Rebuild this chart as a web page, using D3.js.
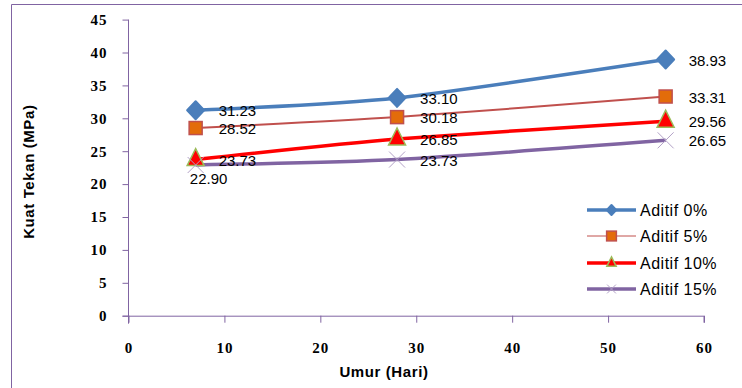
<!DOCTYPE html>
<html>
<head>
<meta charset="utf-8">
<script src="https://cdn.jsdelivr.net/npm/d3@7"></script>
<style>
  body { margin: 0; background: #fff; }
  svg { display: block; }
</style>
</head>
<body>
<div id="chart"></div>
<script>
// data
const days = [7, 28, 56];
const aditif0 = [31.23, 33.10, 38.93];
const aditif5 = [28.52, 30.18, 33.31];
const aditif10 = [23.73, 26.85, 29.56];
const aditif15 = [22.90, 23.73, 26.65];
const seriesNames = ["Aditif 0%", "Aditif 5%", "Aditif 10%", "Aditif 15%"];
const xTicks = [0, 10, 20, 30, 40, 50, 60];
const yTicks = [0, 5, 10, 15, 20, 25, 30, 35, 40, 45];

const width = 742, height = 388;
const margin = {top: 19.6, right: 38, bottom: 72.3, left: 128.5};

const svg = d3.select("#chart")
  .append("svg")
  .attr("width", width)
  .attr("height", height);

// outer chart border (only top + left visible)
svg.append("path")
  .attr("d", "M11.5,388 V4.5 H742")
  .attr("fill", "none")
  .attr("stroke", "#8064a2")
  .attr("stroke-width", 1);

const x = d3.scaleLinear().domain([0, 60]).range([margin.left, width - margin.right]);
const y = d3.scaleLinear().domain([0, 45]).range([height - margin.bottom, margin.top]);

const axisColor = "#8064a2";
const tickFont = "'Liberation Serif', serif";
const labelFont = "'Liberation Sans', Arial, sans-serif";

// y axis
const yAxis = svg.append("g")
  .attr("transform", `translate(${margin.left},0)`)
  .call(d3.axisLeft(y).tickValues(yTicks).tickSize(6).tickPadding(15));
// x axis
const xAxis = svg.append("g")
  .attr("transform", `translate(0,${y(0)})`)
  .call(d3.axisBottom(x).tickValues(xTicks).tickSize(7).tickPadding(20));

[yAxis, xAxis].forEach(a => {
  a.select(".domain").attr("stroke", axisColor);
  a.selectAll(".tick line").attr("stroke", axisColor);
  a.selectAll("text")
    .attr("fill", "#000")
    .attr("font-family", tickFont)
    .attr("font-weight", "bold")
    .attr("font-size", "15px")
    .attr("letter-spacing", "1px");
});
// x axis domain overshoots to left like excel
xAxis.select(".domain").attr("d", `M${margin.left - 6},0.5H${x(60)}V7`);
yAxis.select(".domain").attr("d", `M0,${y(45)}V${y(0) + 8}`);

// axis titles
svg.append("text")
  .attr("transform", `translate(34,${(y(0) + y(45)) / 2 + 4}) rotate(-90)`)
  .attr("text-anchor", "middle")
  .attr("font-family", labelFont)
  .attr("font-weight", "bold")
  .attr("font-size", "15px")
  .attr("letter-spacing", "0.6px")
  .text("Kuat Tekan (MPa)");

svg.append("text")
  .attr("x", 384)
  .attr("y", 377)
  .attr("text-anchor", "middle")
  .attr("font-family", labelFont)
  .attr("font-weight", "bold")
  .attr("font-size", "15px")
  .attr("letter-spacing", "0.6px")
  .text("Umur (Hari)");

const series = [
  {name: seriesNames[0], values: aditif0, color: "#4a7ebb", width: 3.5, marker: "diamond"},
  {name: seriesNames[1], values: aditif5, color: "#c0504d", width: 2, marker: "square"},
  {name: seriesNames[2], values: aditif10, color: "#ff0000", width: 3.5, marker: "triangle"},
  {name: seriesNames[3], values: aditif15, color: "#8064a2", width: 3.5, marker: "cross"}
];

const line = d3.line()
  .x((d, i) => x(days[i]))
  .y(d => y(d))
  .curve(d3.curveCardinal.tension(0.3));

function drawMarker(g, type, cx, cy, s) {
  if (type === "diamond") {
    g.append("path")
      .attr("d", `M${cx},${cy - s * 9}L${cx + s * 8.5},${cy}L${cx},${cy + s * 9}L${cx - s * 8.5},${cy}Z`)
      .attr("fill", "#4a7ebb")
      .attr("stroke", "#4a7ebb")
      .attr("stroke-linejoin", "round")
      .attr("stroke-width", 2);
  } else if (type === "square") {
    g.append("rect")
      .attr("x", cx - s * 6.5).attr("y", cy - s * 6.5)
      .attr("width", s * 13).attr("height", s * 13)
      .attr("fill", "#e36c0a")
      .attr("stroke", "#c0504d")
      .attr("stroke-width", 1.5);
  } else if (type === "triangle") {
    g.append("path")
      .attr("d", `M${cx},${cy - s * 11}L${cx + s * 8.5},${cy + s * 6}L${cx - s * 8.5},${cy + s * 6}Z`)
      .attr("fill", "#ff0000")
      .attr("stroke", "#9bbb59")
      .attr("stroke-width", 1.5);
  } else {
    g.append("path")
      .attr("d", `M${cx - s * 8},${cy - s * 8}L${cx + s * 8},${cy + s * 8}M${cx + s * 8},${cy - s * 8}L${cx - s * 8},${cy + s * 8}`)
      .attr("stroke", "#b3a2c7")
      .attr("stroke-width", 1);
  }
}

const plot = svg.append("g");
series.forEach(s => {
  plot.append("path")
    .datum(s.values)
    .attr("d", line)
    .attr("fill", "none")
    .attr("stroke", s.color)
    .attr("stroke-width", s.width);
});
series.forEach(s => {
  const g = plot.append("g");
  s.values.forEach((v, i) => drawMarker(g, s.marker, x(days[i]), y(v), 1));
});

// data labels
series.forEach((s, k) => {
  s.values.forEach((v, i) => {
    const below = (k === 3 && i === 0);
    svg.append("text")
      .attr("x", below ? x(days[i]) + 13 : x(days[i]) + 23)
      .attr("y", below ? y(v) + 19 : y(v) + 6)
      .attr("text-anchor", below ? "middle" : "start")
      .attr("font-family", labelFont)
      .attr("font-size", "15px")
      .attr("fill", "#000")
      .text(v.toFixed(2));
  });
});

// legend
const legend = svg.append("g");
const legendY = [210, 236, 263, 289];
series.forEach((s, k) => {
  const ly = legendY[k];
  legend.append("line")
    .attr("x1", 587).attr("x2", 636)
    .attr("y1", ly).attr("y2", ly)
    .attr("stroke", s.color)
    .attr("stroke-width", s.marker === "square" ? 1 : s.width);
  drawMarker(legend, s.marker, 611.5, ly, s.marker === "square" ? 0.75 : 0.55);
  legend.append("text")
    .attr("x", 640)
    .attr("y", ly + 6)
    .attr("font-family", labelFont)
    .attr("font-size", "16px")
    .attr("letter-spacing", "0.5px")
    .text(s.name);
});
</script>
</body>
</html>
